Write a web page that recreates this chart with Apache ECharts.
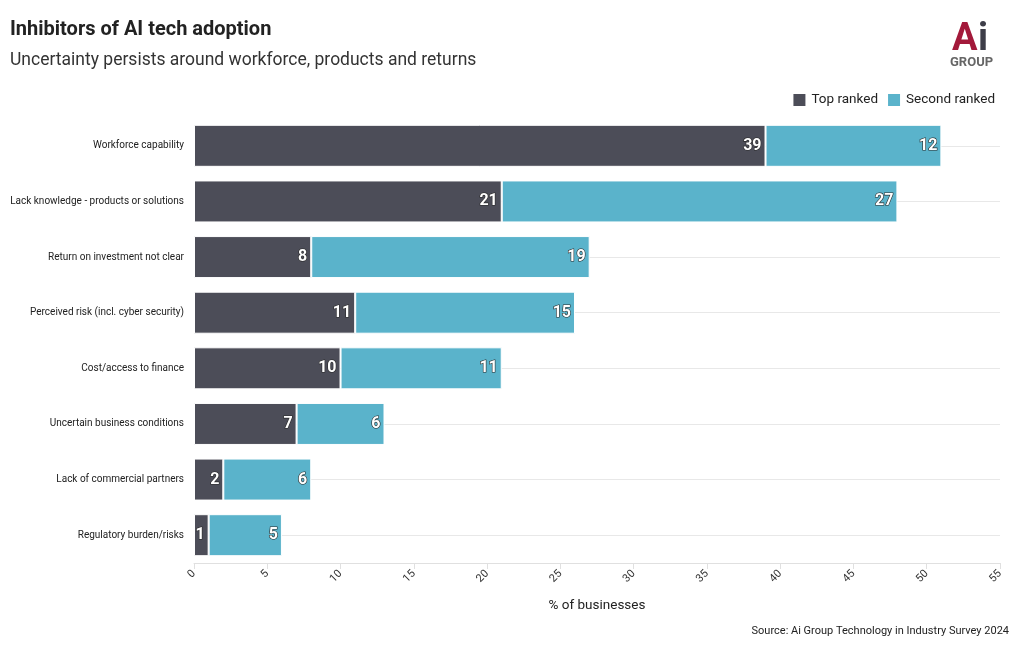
<!DOCTYPE html>
<html><head><meta charset="utf-8">
<script src="https://cdn.jsdelivr.net/npm/echarts@6/dist/echarts.min.js"></script>
<style>html,body{margin:0;padding:0;background:#fff}#c{width:1020px;height:650px}</style>
</head><body><div id="c"></div>
<script>
const categories = ["Workforce capability","Lack knowledge - products or solutions","Return on investment not clear","Perceived risk (incl. cyber security)","Cost/access to finance","Uncertain business conditions","Lack of commercial partners","Regulatory burden/risks"];
const topRanked = [39,21,8,11,10,7,2,1];
const secondRanked = [12,27,19,15,11,6,6,5];
const seriesNames = ["Top ranked","Second ranked"];

const FONT = "Roboto, sans-serif";
const chart = echarts.init(document.getElementById('c'), null, {renderer:'canvas'});
const labelStyle = {show:true, position:'insideRight', color:'#fff', fontWeight:'bold', fontSize:16, fontFamily:FONT, textBorderColor:'#2a2a2a', textBorderWidth:1.2, distance:4};
chart.setOption({
  backgroundColor:'#fff',
  textStyle:{fontFamily:FONT},
  title:[
    {text:'Inhibitors of AI tech adoption', left:5, top:15, padding:5, textStyle:{fontSize:20, fontWeight:'bold', color:'#222', fontFamily:FONT}},
    {text:'Uncertainty persists around workforce, products and returns', left:5, top:47, padding:5, textStyle:{fontSize:17.5, fontWeight:'normal', color:'#333', fontFamily:FONT}},
    {text:'Source: Ai Group Technology in Industry Survey 2024', right:6, top:621, textStyle:{fontSize:11, fontWeight:'normal', color:'#222', fontFamily:FONT}}
  ],
  graphic:[
    {type:'text', left:952, top:21, style:{text:'A', fontSize:38, fontWeight:'bold', fill:'#a3193a', fontFamily:FONT}},
    {type:'text', left:978, top:21, style:{text:'i', fontSize:38, fontWeight:'bold', fill:'#3d3d48', fontFamily:FONT}},
    {type:'text', left:950, top:56, style:{text:'GROUP', fontSize:13, fontWeight:'bold', fill:'#666', fontFamily:FONT}}
  ],
  legend:{right:20, top:87, itemWidth:14, itemHeight:14, itemGap:8, icon:'rect', itemStyle:{borderRadius:3}, textStyle:{fontSize:13.5, color:'#222', fontFamily:FONT}, data:seriesNames},
  grid:{left:194, right:20, top:118, bottom:87, containLabel:false},
  xAxis:{type:'value', min:0, max:55, interval:5,
    name:'% of businesses', nameLocation:'middle', nameGap:36, nameTextStyle:{fontSize:13.5, color:'#222', fontFamily:FONT},
    axisLine:{show:true, lineStyle:{color:'#e0e0e0'}}, axisTick:{show:true, length:6, lineStyle:{color:'#e0e0e0'}},
    axisLabel:{rotate:45, fontSize:11, color:'#333', margin:9, fontFamily:FONT}, splitLine:{show:false}},
  yAxis:{type:'category', data:categories, inverse:true,
    axisLine:{show:false}, axisTick:{show:false},
    axisLabel:{fontSize:10, color:'#222', margin:10, fontFamily:FONT},
    splitLine:{show:true, alignWithLabel:true, lineStyle:{color:'#e8e8e8'}}},
  series:[
    {name:seriesNames[0], type:'bar', stack:'a', data:topRanked, barWidth:42, itemStyle:{color:'#4c4d58', borderColor:'#fff', borderWidth:1}, label:labelStyle},
    {name:seriesNames[1], type:'bar', stack:'a', data:secondRanked, barWidth:42, itemStyle:{color:'#5ab3cb', borderColor:'#fff', borderWidth:1}, label:labelStyle}
  ]
});
</script></body></html>
